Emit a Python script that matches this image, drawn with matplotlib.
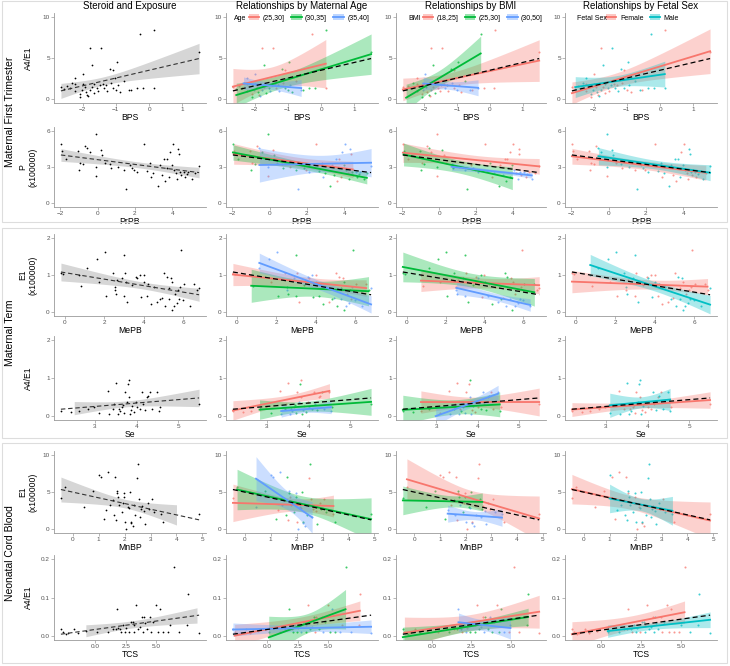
import numpy as np
import matplotlib.pyplot as plt
from matplotlib.patches import Rectangle, Patch
from matplotlib.lines import Line2D

plt.rcParams['font.family'] = ['Liberation Sans', 'DejaVu Sans']

# ─── DATA ─────────────────────────────────────────────────────
# group codes: age 0=(25,30] 1=(30,35] 2=(35,40]; bmi 0=(18,25] 1=(25,30] 2=(30,50]; sex 0=Female 1=Male

# Maternal first trimester: BPS vs A4/E1
bps = [-2.65, -2.55, -2.48, -2.38, -2.33, -2.23, -2.23, -2.23, -2.08, -2.08,
       -2.03, -1.98, -1.98, -1.93, -1.9, -1.86, -1.83, -1.78, -1.78, -1.73,
       -1.73, -1.66, -1.66, -1.58, -1.53, -1.48, -1.46, -1.4, -1.36, -1.3,
       -1.26, -1.18, -1.16, -1.1, -1.08, -1.03, -1.0, -0.96, -0.93, -0.88,
       -0.76, -0.6, -0.53, -0.36, -0.28, -0.18, 0.14, 0.15, 1.5]
a4e1_t1 = [1.5, 1.2, 1.6, 1.35, 2.0, 2.6, 0.95, 1.85, 0.6, 0.2,
           1.1, 3.1, 1.85, 1.5, 0.8, 0.5, 0.4, 6.2, 1.1, 4.2,
           1.5, 1.85, 0.7, 1.35, 0.95, 1.65, 6.2, 1.85, 1.35, 1.65,
           1.0, 3.7, 1.9, 3.5, 1.35, 2.6, 1.1, 4.5, 1.65, 0.8,
           2.2, 1.1, 1.1, 1.35, 7.9, 1.35, 1.35, 8.45, 5.7]
bps_age = [0, 1, 0, 1, 2, 2, 1, 0, 0, 1, 2, 2, 2, 0, 1, 0, 2, 0, 2, 1, 0, 2, 1, 1, 2,
           1, 0, 2, 0, 1, 2, 1, 0, 0, 1, 2, 1, 1, 2, 1, 0, 2, 1, 1, 0, 1, 0, 1, 1]
bps_bmi = [0, 1, 0, 0, 1, 0, 1, 0, 0, 1, 2, 2, 0, 1, 0, 1, 0, 0, 2, 1, 0, 2, 1, 0, 0,
           2, 0, 0, 2, 1, 0, 1, 2, 0, 0, 2, 2, 1, 0, 0, 1, 2, 0, 2, 1, 0, 0, 0, 0]
bps_sex = [0, 1, 0, 1, 1, 1, 0, 0, 1, 0, 1, 0, 1, 0, 1, 0, 1, 0, 1, 1, 0, 1, 0, 1, 0,
           1, 1, 0, 1, 0, 1, 1, 0, 0, 1, 1, 0, 1, 1, 0, 1, 1, 0, 1, 1, 1, 1, 0, 0]

# Maternal first trimester: PrPB vs P (x100000)
prpb = [-1.97, -1.93, -1.68, -1.06, -0.99, -0.94, -0.8, -0.68, -0.55, -0.43,
        -0.09, -0.09, -0.09, 0.17, 0.26, 0.39, 0.68, 0.74, 1.11, 1.42,
        1.54, 1.71, 1.83, 1.97, 2.1, 2.48, 2.62, 2.79, 2.85, 2.99,
        3.25, 3.33, 3.47, 3.56, 3.61, 3.71, 3.74, 3.85, 3.88, 3.98,
        4.02, 4.07, 4.19, 4.27, 4.32, 4.36, 4.41, 4.46, 4.62, 4.7,
        4.79, 4.87, 5.04, 5.21, 5.44]
p_t1 = [4.93, 4.33, 3.7, 4.3, 2.74, 3.29, 3.23, 4.7, 4.6, 4.25,
        5.7, 3.0, 2.25, 4.44, 3.97, 3.29, 3.23, 2.88, 2.96, 2.79,
        1.18, 3.15, 2.88, 2.74, 2.6, 4.93, 2.68, 3.34, 2.19, 2.47,
        1.42, 3.15, 2.33, 3.7, 1.84, 3.7, 2.88, 2.19, 4.25, 3.2,
        4.93, 2.74, 2.47, 2.05, 4.52, 4.05, 2.6, 2.33, 2.6, 2.19,
        2.41, 2.6, 2.05, 2.47, 3.07]
prpb_age = [1, 0, 1, 0, 1, 0, 1, 0, 2, 1, 1, 2, 0, 0, 1, 2, 0, 1, 0, 1,
            2, 0, 1, 0, 2, 0, 1, 0, 2, 1, 1, 0, 1, 2, 0, 0, 1, 0, 2, 1,
            2, 1, 0, 1, 2, 0, 1, 0, 2, 1, 1, 2, 1, 1, 2]
prpb_bmi = [0, 1, 0, 1, 1, 0, 1, 0, 1, 0, 0, 1, 0, 1, 0, 0, 2, 1, 0, 2,
            1, 0, 2, 0, 2, 0, 2, 1, 0, 2, 1, 0, 2, 0, 1, 0, 2, 1, 0, 1,
            0, 2, 0, 2, 0, 0, 2, 0, 2, 0, 2, 0, 2, 0, 0]
prpb_sex = [0, 0, 0, 0, 0, 0, 0, 0, 1, 1, 1, 1, 0, 1, 1, 0, 1, 0, 1, 0,
            1, 0, 1, 0, 1, 0, 1, 1, 0, 1, 1, 1, 0, 1, 0, 1, 0, 1, 0, 1,
            0, 1, 0, 0, 1, 1, 1, 0, 1, 0, 1, 0, 1, 0, 1]

# Maternal term: MePB vs E1 (x100000)
mepb = [-0.2, -0.08, 0.73, 0.82, 1.14, 1.63, 1.71, 2.04, 2.09, 2.45,
        2.53, 2.56, 2.61, 2.66, 2.89, 2.99, 3.02, 3.05, 3.1, 3.15,
        3.43, 3.59, 3.67, 3.8, 3.87, 4.0, 4.03, 4.16, 4.24, 4.4,
        4.52, 4.68, 4.85, 4.94, 5.06, 5.11, 5.17, 5.27, 5.3, 5.38,
        5.43, 5.46, 5.55, 5.6, 5.71, 5.76, 5.82, 5.87, 5.92, 5.99,
        6.04, 6.36, 6.57, 6.69, 6.82]
e1_term = [1.05, 1.03, 1.0, 0.71, 1.18, 1.43, 0.8, 1.61, 0.43, 1.05,
           0.68, 0.59, 0.5, 0.86, 0.93, 0.43, 1.53, 1.05, 0.82, 0.27,
           0.73, 0.95, 0.91, 1.0, 0.41, 1.0, 0.82, 0.45, 0.77, 0.23,
           0.68, 0.27, 0.36, 0.38, 1.05, 0.18, 0.95, 0.64, 0.36, 0.91,
           0.05, 0.82, 0.18, 0.5, 0.25, 0.59, 0.36, 0.68, 1.68, 0.32,
           0.75, 0.18, 0.75, 0.59, 0.64]
mepb_age = [0, 0, 1, 1, 2, 2, 0, 2, 1, 0, 1, 2, 1, 0, 2, 1, 1, 0, 2, 0,
            1, 2, 0, 2, 1, 0, 2, 1, 0, 1, 2, 0, 1, 2, 0, 1, 0, 1, 2, 0,
            1, 1, 2, 0, 2, 1, 0, 2, 1, 2, 0, 2, 0, 1, 2]
mepb_bmi = [1, 1, 0, 0, 1, 1, 0, 1, 1, 1, 0, 2, 2, 0, 1, 2, 1, 0, 2, 1,
            1, 0, 2, 1, 0, 0, 1, 2, 0, 1, 0, 2, 1, 0, 1, 2, 1, 0, 2, 0,
            1, 0, 2, 0, 2, 0, 2, 0, 0, 2, 1, 2, 1, 0, 0]
mepb_sex = [0, 0, 1, 0, 1, 1, 0, 1, 0, 1, 1, 0, 1, 0, 1, 0, 1, 0, 1, 1,
            0, 0, 1, 0, 1, 0, 1, 0, 1, 0, 1, 0, 1, 0, 0, 1, 1, 0, 1, 1,
            1, 0, 1, 0, 1, 0, 1, 0, 0, 1, 0, 1, 0, 0, 1]

# Maternal term: Se vs A4/E1
se = [2.18, 2.42, 2.62, 2.82, 2.98, 3.09, 3.3, 3.34, 3.42, 3.46,
      3.5, 3.54, 3.57, 3.6, 3.65, 3.68, 3.7, 3.73, 3.76, 3.78,
      3.81, 3.82, 3.84, 3.87, 3.9, 3.94, 3.98, 4.02, 4.08, 4.13,
      4.16, 4.21, 4.26, 4.28, 4.32, 4.37, 4.5, 4.54, 4.56, 5.5]
a4e1_term = [0.14, 0.11, 0.13, 0.18, 0.24, 0.09, 0.67, 0.06, 0.2, 0.33,
             0.86, 0.06, 0.18, 0.13, 0.24, 0.29, 0.09, 0.63, 0.38, 0.83,
             0.94, 0.49, 0.05, 0.15, 0.27, 0.11, 0.38, 0.24, 0.2, 0.63,
             0.31, 0.15, 0.49, 0.54, 0.63, 0.18, 0.63, 0.13, 0.24, 0.31]
se_age = [0, 0, 0, 1, 0, 1, 0, 2, 1, 0, 0, 2, 1, 2, 0, 1, 1, 0, 2, 1,
          0, 0, 1, 2, 0, 1, 0, 2, 1, 0, 2, 1, 0, 0, 1, 2, 0, 2, 1, 1]
se_bmi = [1, 1, 0, 1, 2, 0, 0, 2, 1, 0, 0, 2, 0, 1, 2, 0, 2, 0, 2, 0,
          1, 2, 2, 0, 1, 0, 2, 0, 1, 2, 0, 1, 0, 2, 0, 0, 2, 1, 0, 0]
se_sex = [0, 0, 0, 0, 0, 1, 0, 1, 0, 1, 1, 1, 0, 1, 0, 1, 0, 0, 1, 1,
          1, 0, 1, 0, 1, 0, 1, 0, 0, 1, 0, 1, 0, 1, 0, 1, 1, 1, 0, 0]

# Neonatal cord blood: MnBP vs E1 (x100000)
mnbp = [-0.45, -0.29, 0.44, 0.79, 1.0, 1.1, 1.19, 1.3, 1.36, 1.43,
        1.54, 1.59, 1.63, 1.67, 1.7, 1.72, 1.76, 1.8, 1.89, 1.93,
        1.96, 1.99, 2.03, 2.07, 2.12, 2.16, 2.2, 2.23, 2.26, 2.33,
        2.38, 2.42, 2.49, 2.52, 2.56, 2.6, 2.65, 2.69, 2.75, 2.78,
        2.89, 2.95, 3.05, 3.13, 3.42, 3.48, 4.87]
e1_cord = [4.14, 5.63, 3.0, 5.18, 7.3, 7.0, 1.44, 2.57, 7.75, 3.24,
           3.9, 1.9, 7.0, 1.2, 5.18, 4.8, 4.37, 3.24, 2.34, 3.47,
           4.37, 4.8, 1.0, 0.1, 3.0, 2.8, 5.05, 0.86, 1.0, 0.4,
           3.24, 1.9, 6.85, 8.8, 4.0, 1.67, 2.66, 3.1, 2.48, 0.68,
           3.47, 2.66, 4.0, 2.34, 2.0, 1.0, 2.1]
mnbp_age = [0, 1, 2, 1, 2, 2, 1, 0, 2, 2, 0, 1, 1, 0, 2, 1, 0, 2, 1, 0,
            1, 2, 0, 2, 2, 0, 1, 2, 1, 2, 2, 1, 0, 1, 0, 2, 0, 1, 0, 1,
            0, 1, 0, 1, 0, 1, 1]
mnbp_bmi = [1, 0, 1, 1, 0, 0, 1, 2, 0, 0, 1, 2, 0, 0, 1, 0, 1, 2, 1, 0,
            1, 0, 2, 0, 1, 2, 1, 2, 0, 2, 0, 2, 0, 0, 1, 2, 1, 0, 2, 2,
            0, 0, 0, 2, 2, 0, 0]
mnbp_sex = [0, 0, 0, 0, 1, 0, 0, 1, 0, 1, 0, 1, 0, 1, 1, 0, 1, 1, 1, 0,
            0, 1, 1, 0, 0, 1, 1, 0, 1, 0, 1, 1, 1, 1, 1, 1, 1, 0, 1, 1,
            1, 0, 0, 1, 1, 0, 0]

# Neonatal cord blood: TCS vs A4/E1
# x as it appears in the first two columns, and as it appears in the BMI / sex columns
tcs = [-2.78, -2.64, -2.36, -2.22, -1.75, -1.39, -0.75, 0.14, 1.03, 1.47,
       1.67, 1.81, 1.86, 2.03, 2.14, 2.31, 2.42, 2.5, 2.78, 2.92,
       3.06, 3.14, 3.19, 3.33, 3.53, 3.69, 3.81, 3.89, 3.97, 4.08,
       4.25, 4.44, 4.58, 4.72, 5.0, 5.14, 5.28, 5.56, 5.97, 6.11,
       6.39, 6.81, 7.5, 7.56, 8.47]
tcs_b = [-1.85, -1.75, -1.53, -1.42, -1.06, -0.79, -0.29, 0.39, 1.08, 1.4,
         1.57, 1.68, 1.72, 1.85, 1.93, 2.06, 2.15, 2.21, 2.42, 2.53,
         2.64, 2.7, 2.74, 2.85, 3.0, 3.12, 3.22, 3.28, 3.34, 3.42,
         3.55, 3.7, 3.81, 3.92, 4.13, 4.24, 4.35, 4.56, 4.88, 4.98,
         5.2, 5.52, 6.05, 6.1, 6.8]
a4e1_cord = [0.018, 0.01, 0.005, 0.007, 0.018, 0.007, 0.013, 0.01, 0.01, 0.018,
             0.018, 0.069, 0.022, 0.018, 0.01, 0.029, 0.01, 0.022, 0.01, 0.037,
             0.037, 0.01, 0.029, 0.081, 0.018, 0.024, 0.05, 0.01, 0.05, 0.033,
             0.018, 0.05, 0.01, 0.037, 0.081, 0.01, 0.07, 0.01, 0.01, 0.029,
             0.18, 0.01, 0.029, 0.108, 0.009]
tcs_age = [2, 0, 0, 2, 2, 0, 2, 1, 0, 2, 1, 1, 2, 0, 1, 2, 1, 0, 2, 1,
           0, 1, 2, 0, 1, 2, 1, 0, 0, 2, 1, 0, 2, 1, 0, 1, 2, 1, 2, 0,
           1, 2, 0, 0, 2]
tcs_bmi = [1, 0, 1, 0, 0, 1, 0, 0, 1, 0, 1, 2, 2, 1, 0, 1, 2, 0, 1, 0,
           2, 1, 0, 0, 1, 2, 0, 2, 1, 2, 1, 2, 1, 0, 0, 1, 1, 2, 0, 2,
           0, 0, 1, 1, 0]
tcs_sex = [0, 0, 0, 0, 0, 0, 0, 1, 1, 1, 1, 0, 1, 1, 0, 1, 1, 1, 0, 1,
           1, 1, 0, 0, 1, 1, 0, 1, 1, 1, 1, 0, 0, 1, 0, 0, 0, 0, 0, 1,
           0, 1, 1, 1, 1]

# x range over which the grey band is drawn in the first column
band_range = [(-2.65, 1.5), (-1.97, 5.44), (-0.2, 6.82), (2.5, 5.5), (-0.45, 4.0), (-0.75, 8.3)]

AGE_LABELS = ["(25,30]", "(30,35]", "(35,40]"]
BMI_LABELS = ["(18,25]", "(25,30]", "(30,50]"]
SEX_LABELS = ["Female", "Male"]
COL_TITLES = ["Steroid and Exposure", "Relationships by Maternal Age",
              "Relationships by BMI", "Relationships by Fetal Sex"]
SECTIONS = ["Maternal First Trimester", "Maternal Term", "Neonatal Cord Blood"]

ROWS = [
    dict(x=[bps] * 4, y=a4e1_t1, groups=[bps_age, bps_bmi, bps_sex], xlab="BPS", ylab="A4/E1",
         ylim=(0, 10), yticks=[0, 5, 10], xticks=[-2, -1, 0, 1], xtl=None),
    dict(x=[prpb] * 4, y=p_t1, groups=[prpb_age, prpb_bmi, prpb_sex], xlab="PrPB", ylab="P\n(x100000)",
         ylim=(0, 6), yticks=[0, 3, 6], xticks=[-2, 0, 2, 4], xtl=None),
    dict(x=[mepb] * 4, y=e1_term, groups=[mepb_age, mepb_bmi, mepb_sex], xlab="MePB", ylab="E1\n(x100000)",
         ylim=(0, 2), yticks=[0, 1, 2], xticks=[0, 2, 4, 6], xtl=None),
    dict(x=[se] * 4, y=a4e1_term, groups=[se_age, se_bmi, se_sex], xlab="Se", ylab="A4/E1",
         ylim=(0, 2), yticks=[0, 1, 2], xticks=[3, 4, 5], xtl=None),
    dict(x=[mnbp] * 4, y=e1_cord, groups=[mnbp_age, mnbp_bmi, mnbp_sex], xlab="MnBP", ylab="E1\n(x100000)",
         ylim=(0, 10), yticks=[0, 5, 10], xticks=[0, 1, 2, 3, 4, 5], xtl=None),
    dict(x=[tcs, tcs, tcs_b, tcs_b], y=a4e1_cord, groups=[tcs_age, tcs_bmi, tcs_sex], xlab="TCS",
         ylab="A4/E1", ylim=(0, 0.2), yticks=[0.0, 0.1, 0.2], xticks=[0, 2.5, 5],
         xtl=["0.0", "2.5", "5.0"]),
]
# ──────────────────────────────────────────────────────────────

C3 = ["#F8766D", "#00BA38", "#619CFF"]
C2 = ["#F8766D", "#00BFC4"]
GROUP_COLORS = [C3, C3, C2]
GROUP_LABELS = [AGE_LABELS, BMI_LABELS, SEX_LABELS]
LEGEND_TITLES = ["Age", "BMI", "Fetal Sex"]

W, H = 730, 666
COL_X = [(54, 206), (226, 378), (396, 546), (565, 717)]
ROW_Y = [(13, 103), (127, 207), (234, 316), (336, 420), (451, 533), (555, 640)]
SECTION_Y = [(1, 222), (228, 438), (443, 663)]
YLAB_Y = [58, 167, 275, 378, 492, 597]
LEG_TITLE_X = [234, 408, 577]     # pixel x of legend titles
LEG_KEYS_X = [249, 423, 606]      # pixel x where legend keys start
LEG_Y = 18

fig = plt.figure(figsize=(W / 100, H / 100), dpi=100)


def t975(df):
    # approximate 97.5% t quantile (Cornish-Fisher)
    z = 1.959964
    return z + (z**3 + z) / (4 * df) + (5 * z**5 + 16 * z**3 + 3 * z) / (96 * df**2)


def lm_fit(x, y, xs):
    # linear fit with 95% confidence half-width, like geom_smooth(method="lm")
    x = np.asarray(x, float)
    y = np.asarray(y, float)
    n = len(x)
    b, a = np.polyfit(x, y, 1)
    resid = y - (a + b * x)
    s = np.sqrt(np.sum(resid**2) / max(n - 2, 1))
    sxx = np.sum((x - x.mean())**2)
    se_fit = s * np.sqrt(1.0 / n + (xs - x.mean())**2 / sxx)
    return a + b * xs, t975(max(n - 2, 1)) * se_fit


def add_ax(r, c):
    x0, x1 = COL_X[c]
    y0, y1 = ROW_Y[r]
    return fig.add_axes([x0 / W, 1 - y1 / H, (x1 - x0) / W, (y1 - y0) / H])


def style_ax(ax, spec, x):
    for s in ["top", "right"]:
        ax.spines[s].set_visible(False)
    for s in ["left", "bottom"]:
        ax.spines[s].set_color("#9a9a9a")
        ax.spines[s].set_linewidth(0.6)
    ax.tick_params(length=2, width=0.5, color="#9a9a9a", labelsize=4.6,
                   labelcolor="#555555", pad=1)
    lo, hi = x.min(), x.max()
    pad = 0.05 * (hi - lo)
    ax.set_xlim(lo - pad, hi + pad)
    ylo, yhi = spec["ylim"]
    ypad = 0.05 * (yhi - ylo)
    ax.set_ylim(ylo - ypad, yhi + ypad)
    ax.set_yticks(spec["yticks"])
    ax.set_xticks(spec["xticks"])
    if spec["xtl"] is not None:
        ax.set_xticklabels(spec["xtl"])
    ax.set_xlabel(spec["xlab"], fontsize=6.2, labelpad=0.5)
    ax.patch.set_alpha(0)


for r, spec in enumerate(ROWS):
    y = np.asarray(spec["y"], float)

    # column 1: all points, grey band, dashed overall fit
    ax = add_ax(r, 0)
    x = np.asarray(spec["x"][0], float)
    xs_all = np.linspace(x.min(), x.max(), 100)
    yfit_all, _ = lm_fit(x, y, xs_all)
    b0, b1 = band_range[r]
    xs_b = np.linspace(b0, b1, 100)
    yb, hw = lm_fit(x, y, xs_b)
    ax.fill_between(xs_b, yb - hw, yb + hw, color="#999999", alpha=0.4, lw=0, zorder=2)
    ax.scatter(x, y, s=1.6, color="black", lw=0, zorder=3)
    ax.plot(xs_all, yfit_all, color="#333333", lw=0.8, ls=(0, (4, 2.5)), zorder=4)
    style_ax(ax, spec, x)

    # columns 2-4: by group
    for c in range(3):
        ax = add_ax(r, c + 1)
        x = np.asarray(spec["x"][c + 1], float)
        xs_all = np.linspace(x.min(), x.max(), 100)
        yfit_all, _ = lm_fit(x, y, xs_all)
        g = np.asarray(spec["groups"][c])
        colors = GROUP_COLORS[c]
        for k, col in enumerate(colors):
            m = g == k
            ax.scatter(x[m], y[m], s=2.2, color=col, alpha=0.75, lw=0, zorder=1)
        for k, col in enumerate(colors):
            m = g == k
            if m.sum() < 3:
                continue
            xs = np.linspace(x[m].min(), x[m].max(), 100)
            yg, hw = lm_fit(x[m], y[m], xs)
            ax.fill_between(xs, yg - hw, yg + hw, color=col, alpha=0.33, lw=0, zorder=2)
            ax.plot(xs, yg, color=col, lw=1.3, zorder=3)
        ax.plot(xs_all, yfit_all, color="black", lw=0.9, ls=(0, (4, 2.5)), zorder=4)
        style_ax(ax, spec, x)

        if r == 0:
            handles = [(Patch(facecolor=col, alpha=0.4, edgecolor="none"),
                        Line2D([], [], color=col, lw=1.3)) for col in colors]
            fig.text(LEG_TITLE_X[c] / W, 1 - LEG_Y / H, LEGEND_TITLES[c],
                     fontsize=5, va="center", ha="left")
            ax.legend(handles, GROUP_LABELS[c], ncol=len(colors), frameon=False,
                      fontsize=5, loc="center left",
                      bbox_to_anchor=(LEG_KEYS_X[c] / W, 1 - LEG_Y / H),
                      bbox_transform=fig.transFigure,
                      handlelength=1.5, handleheight=0.8, handletextpad=0.5,
                      columnspacing=0.9, borderpad=0, borderaxespad=0)

    # y label of the row (first column only)
    fig.text(28 / W, 1 - YLAB_Y[r] / H, spec["ylab"], rotation=90, ha="center",
             va="center", fontsize=6.2, linespacing=1.1)

# column titles
for c, t in enumerate(COL_TITLES):
    x0, x1 = COL_X[c]
    fig.text((x0 + x1) / 2 / W, 1 - 6 / H, t, ha="center", va="center", fontsize=7)

# section boxes and labels
for (y0, y1), name in zip(SECTION_Y, SECTIONS):
    fig.add_artist(Rectangle((2 / W, 1 - y1 / H), 725 / W, (y1 - y0) / H,
                             transform=fig.transFigure, fill=False,
                             edgecolor="#dddddd", lw=0.8))
    fig.text(10 / W, 1 - (y0 + y1) / 2 / H, name, rotation=90, ha="center",
             va="center", fontsize=7.5)

fig.savefig("out.png", dpi=100)
